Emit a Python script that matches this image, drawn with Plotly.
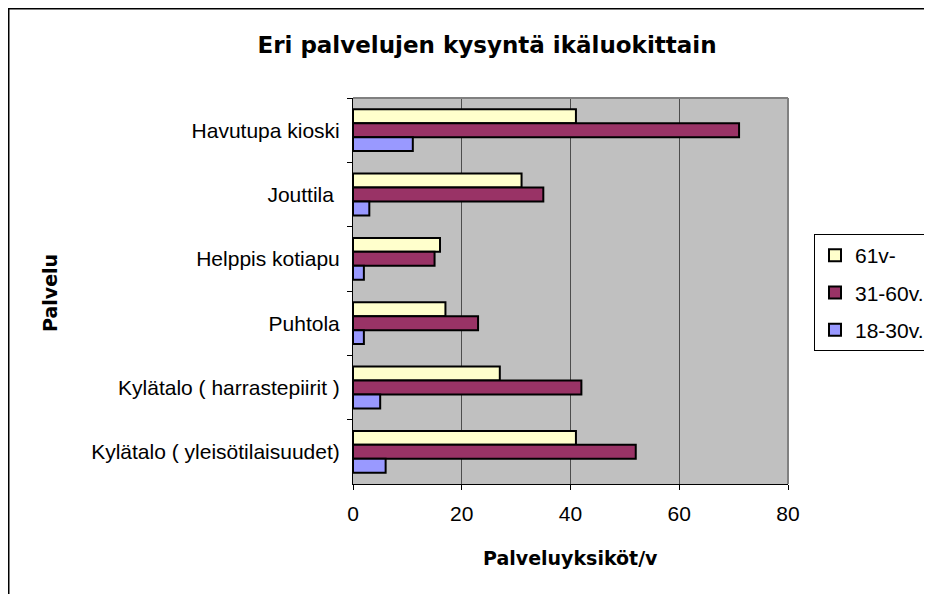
import plotly.graph_objects as go

# services, listed top to bottom as in the chart
services = ["Havutupa kioski", "Jouttila\u00a0", "Helppis kotiapu", "Puhtola",
            "Kylätalo ( harrastepiirit )", "Kylätalo ( yleisötilaisuudet)"]
age_61 = [41, 31, 16, 17, 27, 41]
age_31_60 = [71, 35, 15, 23, 42, 52]
age_18_30 = [11, 3, 2, 2, 5, 6]

x_ticks = [0, 20, 40, 60, 80]

FONT = "Liberation Sans, Arial, sans-serif"
BOLD = "DejaVu Sans, Liberation Sans, Arial, sans-serif"

fig = go.Figure()
fig.add_bar(y=services, x=age_61, orientation='h', name='61v-', legendgroup='a',
            marker=dict(color='#FFFFCC', line=dict(color='black', width=2)))
fig.add_bar(y=services, x=age_31_60, orientation='h', name='31-60v.', legendgroup='b',
            marker=dict(color='#993366', line=dict(color='black', width=2)))
fig.add_bar(y=services, x=age_18_30, orientation='h', name='18-30v.', legendgroup='c',
            marker=dict(color='#9999FF', line=dict(color='black', width=2)))

# the page puts the figure 8px in from the corner; figure is 924x586
FW, FH = 924, 586
# plot area in figure pixels
L, R, T, B = 345, 780, 90, 476
W, H = R - L, B - T


def px(x):
    return (x - L) / W


def py(y):
    return (B - y) / H


fig.update_layout(
    width=FW, height=FH,
    margin=dict(l=L, r=FW - R, t=T, b=FH - B, autoexpand=False),
    paper_bgcolor='white',
    plot_bgcolor='#C0C0C0',
    barmode='group',
    bargap=0.35,
    bargroupgap=0,
    font=dict(family=FONT, size=21, color='black'),
    title=dict(text='<b>Eri palvelujen kysyntä ikäluokittain</b>',
               x=479 / FW, xanchor='center', xref='container',
               y=1 - 37 / FH, yanchor='middle', yref='container',
               font=dict(family=BOLD, size=23, color='black')),
    legend=dict(x=px(806), y=py(226), xanchor='left', yanchor='top',
                bgcolor='white', bordercolor='black', borderwidth=1,
                font=dict(family=FONT, size=21),
                traceorder='grouped', tracegroupgap=7),
    showlegend=True,
)

fig.update_xaxes(range=[0, 80], tickvals=x_ticks, ticks='outside', ticklen=5,
                 tickcolor='black', showline=True, linecolor='black', linewidth=1,
                 showgrid=True, gridcolor='#4d4d4d', gridwidth=1, zeroline=False,
                 ticklabelstandoff=6, tickfont=dict(size=21))
fig.update_yaxes(autorange='reversed', ticks='outside', ticklen=5, tickson='boundaries',
                 tickcolor='black', showline=True, linecolor='black', linewidth=1,
                 showgrid=False, ticklabelstandoff=8, tickfont=dict(size=21))

# grey top/right border of the plot area
fig.add_shape(type='line', xref='paper', yref='paper', x0=0, x1=1, y0=1, y1=1,
              line=dict(color='#808080', width=2))
fig.add_shape(type='line', xref='paper', yref='paper', x0=1, x1=1, y0=0, y1=1,
              line=dict(color='#808080', width=2))

# outer chart frame (left and top edges visible)
fig.add_shape(type='rect', xref='paper', yref='paper',
              x0=px(0.5), x1=px(FW + 20), y0=py(FH + 20), y1=py(0.5),
              line=dict(color='black', width=2))

fig.add_annotation(text='<b>Palveluyksiköt/v</b>', xref='paper', yref='paper',
                   x=0.5, y=py(550), xanchor='center', yanchor='middle',
                   showarrow=False, font=dict(family=BOLD, size=19))
fig.add_annotation(text='<b>Palvelu</b>', xref='paper', yref='paper',
                   x=px(42), y=py(285), xanchor='center', yanchor='middle',
                   textangle=-90, showarrow=False,
                   font=dict(family=BOLD, size=19))

fig.write_html("out.html")
